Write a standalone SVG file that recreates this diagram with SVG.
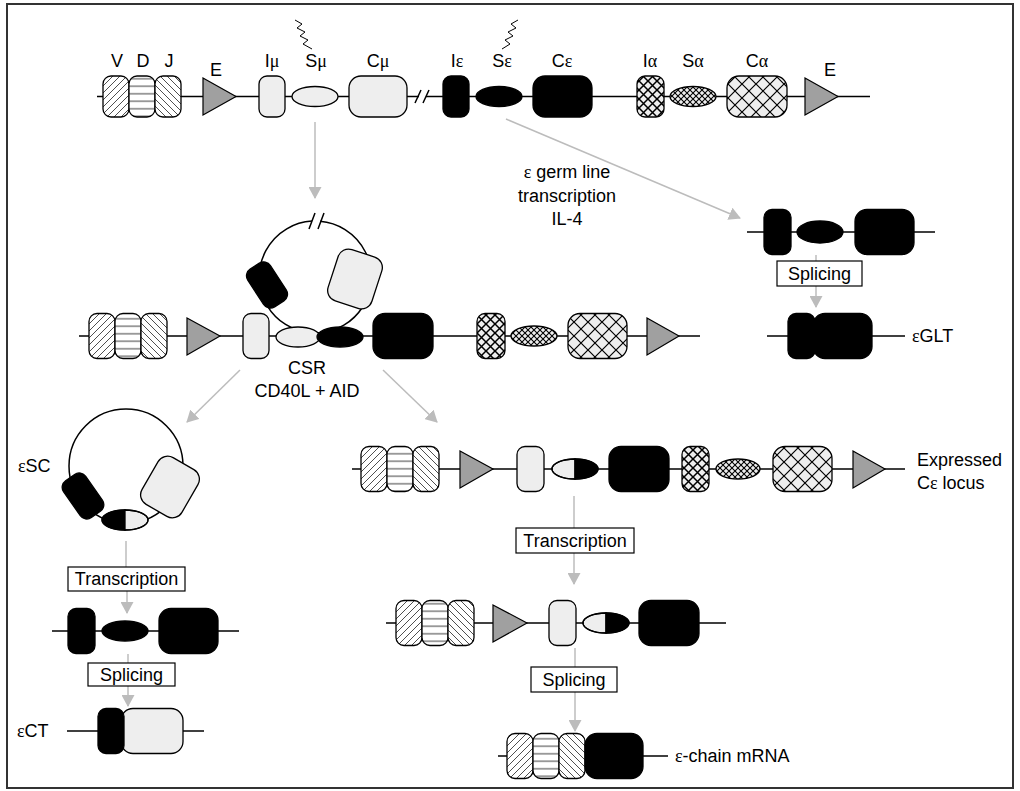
<svg xmlns="http://www.w3.org/2000/svg" width="1020" height="791" viewBox="0 0 1020 791">
<style>
.ln{stroke:#000;stroke-width:1.5;fill:none}
.b{stroke:#000;stroke-width:1.3}
.lt{fill:#eeeeee}
.bk{fill:#000}
.hv{fill:url(#hv)}
.hd{fill:url(#hd)}
.hj{fill:url(#hj)}
.xa{fill:url(#xa)}
.xs{fill:url(#xs)}
.xc{fill:url(#xc)}
.tri{fill:#a0a0a0;stroke:#000;stroke-width:1.2}
.arr{stroke:#bcbcbc;stroke-width:1.5;fill:none}
.box{fill:#fff;stroke:#000;stroke-width:1.2}
.zz{stroke:#000;stroke-width:1;fill:none}
text{font-family:"Liberation Sans",Arial,Helvetica,sans-serif;font-size:18px;fill:#000}
.m{text-anchor:middle}
.g{font-family:"Liberation Serif","Times New Roman",serif}
</style>
<defs>
<pattern id="hv" patternUnits="userSpaceOnUse" width="7" height="7"><rect width="7" height="7" fill="#fff"/><path d="M0,7 L7,0 M-1,1 L1,-1 M6,8 L8,6" stroke="#222" stroke-width="0.8"/></pattern>
<pattern id="hj" patternUnits="userSpaceOnUse" width="7" height="7"><rect width="7" height="7" fill="#fff"/><path d="M0,0 L7,7 M-1,6 L1,8 M6,-1 L8,1" stroke="#222" stroke-width="0.8"/></pattern>
<pattern id="hd" patternUnits="userSpaceOnUse" width="10" height="7.5"><rect width="10" height="7.5" fill="#fff"/><path d="M0,3.75 H10" stroke="#222" stroke-width="0.9"/></pattern>
<pattern id="xa" patternUnits="userSpaceOnUse" width="9" height="9"><rect width="9" height="9" fill="#eee"/><path d="M0,0 L9,9 M9,0 L0,9" stroke="#000" stroke-width="1.5"/></pattern>
<pattern id="xs" patternUnits="userSpaceOnUse" width="6" height="6"><rect width="6" height="6" fill="#eee"/><path d="M0,0 L6,6 M6,0 L0,6" stroke="#000" stroke-width="1.1"/></pattern>
<pattern id="xc" patternUnits="userSpaceOnUse" width="14" height="14"><rect width="14" height="14" fill="#eee"/><path d="M0,0 L14,14 M14,0 L0,14" stroke="#000" stroke-width="1.2"/></pattern>
<marker id="ah" viewBox="0 0 12 13" refX="11" refY="6.5" markerWidth="12" markerHeight="13" markerUnits="userSpaceOnUse" orient="auto"><path d="M0,0 L12,6.5 L0,13 z" fill="#bcbcbc"/></marker>
</defs>
<rect x="7" y="4" width="1006" height="784" fill="#fff" stroke="#333" stroke-width="2"/>

<g id="connectors">
<line class="arr" x1="315" y1="122" x2="315" y2="198" marker-end="url(#ah)"/>
<line class="arr" x1="506" y1="119" x2="740" y2="218" marker-end="url(#ah)"/>
<line class="arr" x1="816" y1="255" x2="816" y2="261"/>
<line class="arr" x1="816" y1="286" x2="816" y2="307" marker-end="url(#ah)"/>
<line class="arr" x1="240" y1="370" x2="187" y2="422" marker-end="url(#ah)"/>
<line class="arr" x1="383" y1="370" x2="437" y2="422" marker-end="url(#ah)"/>
<line class="arr" x1="126" y1="541" x2="126" y2="567"/>
<line class="arr" x1="127" y1="591" x2="127" y2="613" marker-end="url(#ah)"/>
<line class="arr" x1="128" y1="654" x2="128" y2="663"/>
<line class="arr" x1="128" y1="686" x2="128" y2="706" marker-end="url(#ah)"/>
<line class="arr" x1="574" y1="496" x2="574" y2="528"/>
<line class="arr" x1="574" y1="553" x2="574" y2="584" marker-end="url(#ah)"/>
<line class="arr" x1="575" y1="648" x2="575" y2="667"/>
<line class="arr" x1="575" y1="692" x2="575" y2="731" marker-end="url(#ah)"/>
</g>

<g id="germline-locus">
<path class="ln" d="M97,96.5 H419 M426,96.5 H870"/>
<path class="ln" d="M415,103 L421,90 M423,103 L429,90"/>
<path class="zz" d="M295,20 L302,24 L297,28 L305,32 L300,36 L308,40 L303,44 L312,49"/>
<path class="zz" d="M518,20 L511,24 L516,28 L508,32 L513,36 L505,40 L510,44 L502,49"/>
<rect class="b hv" x="103" y="76" width="26" height="41" rx="8"/>
<rect class="b hd" x="129" y="76" width="26" height="41" rx="8"/>
<rect class="b hj" x="155" y="76" width="26" height="41" rx="8"/>
<polygon class="tri" points="203,78 236,96.5 203,115"/>
<rect class="b lt" x="259" y="76" width="26" height="41" rx="8"/>
<ellipse class="b lt" cx="315" cy="96.5" rx="23" ry="10"/>
<rect class="b lt" x="349" y="76" width="58" height="41" rx="12"/>
<rect class="b bk" x="443" y="76" width="26" height="41" rx="8"/>
<ellipse class="b bk" cx="499" cy="96.5" rx="23" ry="10"/>
<rect class="b bk" x="533" y="76" width="59" height="41" rx="12"/>
<rect class="b xa" x="637" y="76" width="27" height="41" rx="8"/>
<ellipse class="b xs" cx="693" cy="96.5" rx="23" ry="10"/>
<rect class="b xc" x="727" y="76" width="60" height="41" rx="12"/>
<polygon class="tri" points="805,78 838,96.5 805,115"/>
<text class="m" x="117" y="67">V</text>
<text class="m" x="143" y="67">D</text>
<text class="m" x="169" y="67">J</text>
<text class="m" x="216" y="76">E</text>
<text class="m" x="272" y="67">I<tspan class="g">μ</tspan></text>
<text class="m" x="316" y="67">S<tspan class="g">μ</tspan></text>
<text class="m" x="378" y="67">C<tspan class="g">μ</tspan></text>
<text class="m" x="457" y="67">I<tspan class="g">ε</tspan></text>
<text class="m" x="502" y="67">S<tspan class="g">ε</tspan></text>
<text class="m" x="562" y="67">C<tspan class="g">ε</tspan></text>
<text class="m" x="650" y="67">I<tspan class="g">α</tspan></text>
<text class="m" x="693" y="67">S<tspan class="g">α</tspan></text>
<text class="m" x="757" y="67">C<tspan class="g">α</tspan></text>
<text class="m" x="830" y="76">E</text>
</g>

<g id="germline-transcription-label">
<text class="m" x="567" y="178"><tspan class="g">ε</tspan> germ line</text>
<text class="m" x="567" y="202">transcription</text>
<text class="m" x="567" y="225">IL-4</text>
</g>

<g id="glt-transcript">
<path class="ln" d="M747,232 H935"/>
<rect class="b bk" x="764" y="209.5" width="27" height="45" rx="8"/>
<ellipse class="b bk" cx="820" cy="232" rx="23" ry="11"/>
<rect class="b bk" x="855" y="209.5" width="59" height="45" rx="12"/>
</g>
<g id="glt-splicing">
<rect class="box" x="777" y="261" width="85" height="25"/>
<text class="m" x="819.5" y="280">Splicing</text>
</g>
<g id="eglt">
<path class="ln" d="M767,336 H905"/>
<rect class="b bk" x="788" y="313.5" width="27" height="45" rx="8"/>
<rect class="b bk" x="813" y="313.5" width="59" height="45" rx="12"/>
<text x="912" y="342"><tspan class="g">ε</tspan>GLT</text>
</g>

<g id="csr-locus">
<path class="ln" d="M320,221.2 A56,56 0 1 1 312,221.1"/>
<path class="ln" d="M309,229 L315,213 M318,229 L324,213"/>
<rect class="b bk" x="253.5" y="262.5" width="27" height="45" rx="8" transform="rotate(-33 267 285)"/>
<rect class="b lt" x="332" y="252" width="46" height="54" rx="11" transform="rotate(18 355 279)"/>
<path class="ln" d="M79,336 H700"/>
<rect class="b hv" x="89" y="313.5" width="26" height="45" rx="8"/>
<rect class="b hd" x="115" y="313.5" width="26" height="45" rx="8"/>
<rect class="b hj" x="141" y="313.5" width="26" height="45" rx="8"/>
<polygon class="tri" points="187,318 220,336 187,355"/>
<rect class="b lt" x="243" y="313.5" width="26" height="45" rx="8"/>
<ellipse class="b lt" cx="298" cy="337" rx="22" ry="10"/>
<ellipse class="b bk" cx="340" cy="337" rx="23" ry="10"/>
<rect class="b bk" x="373" y="313.5" width="60" height="45" rx="12"/>
<rect class="b xa" x="477" y="313.5" width="28" height="45" rx="8"/>
<ellipse class="b xs" cx="534" cy="336" rx="23" ry="10"/>
<rect class="b xc" x="568" y="313.5" width="59" height="45" rx="12"/>
<polygon class="tri" points="647,318 679,336 647,355"/>
<text class="m" x="307" y="374">CSR</text>
<text class="m" x="307" y="397">CD40L + AID</text>
</g>

<g id="esc">
<circle class="ln" cx="126" cy="466" r="57"/>
<rect class="b bk" x="69.5" y="473.5" width="27" height="45" rx="8" transform="rotate(-35 83 496)"/>
<rect class="b lt" x="147" y="460" width="46" height="54" rx="11" transform="rotate(30 170 487)"/>
<path class="b bk" d="M125,510 A23,10 0 0 0 125,530 Z"/>
<path class="b lt" d="M125,510 A23,10 0 0 1 125,530 Z"/>
<ellipse cx="125" cy="520" rx="23" ry="10" fill="none" stroke="#000" stroke-width="1.3"/>
<text x="18" y="472"><tspan class="g">ε</tspan>SC</text>
</g>
<g id="esc-transcription">
<rect class="box" x="68" y="567" width="117" height="24"/>
<text class="m" x="126.5" y="585">Transcription</text>
</g>
<g id="ect-transcript">
<path class="ln" d="M52,631 H239"/>
<rect class="b bk" x="68" y="608.5" width="27" height="45" rx="8"/>
<ellipse class="b bk" cx="125" cy="631" rx="23" ry="10"/>
<rect class="b bk" x="159" y="608.5" width="59" height="45" rx="12"/>
</g>
<g id="ect-splicing">
<rect class="box" x="88" y="663" width="87" height="23"/>
<text class="m" x="131.5" y="681">Splicing</text>
</g>
<g id="ect">
<path class="ln" d="M67,731 H204"/>
<rect class="b lt" x="121" y="708.5" width="62" height="45" rx="12"/>
<rect class="b bk" x="98" y="708.5" width="26" height="45" rx="8"/>
<text x="17" y="737"><tspan class="g">ε</tspan>CT</text>
</g>

<g id="expressed-locus">
<path class="ln" d="M352,469 H905"/>
<rect class="b hv" x="361" y="446.5" width="26" height="45" rx="8"/>
<rect class="b hd" x="387" y="446.5" width="26" height="45" rx="8"/>
<rect class="b hj" x="413" y="446.5" width="26" height="45" rx="8"/>
<polygon class="tri" points="460,451 493,469 460,488"/>
<rect class="b lt" x="517" y="446.5" width="27" height="45" rx="8"/>
<path class="b lt" d="M575,459 A23,10 0 0 0 575,479 Z"/>
<path class="b bk" d="M575,459 A23,10 0 0 1 575,479 Z"/>
<ellipse cx="575" cy="469" rx="23" ry="10" fill="none" stroke="#000" stroke-width="1.3"/>
<rect class="b bk" x="609" y="446.5" width="60" height="45" rx="12"/>
<rect class="b xa" x="682" y="446.5" width="27" height="45" rx="8"/>
<ellipse class="b xs" cx="738" cy="469" rx="22" ry="10"/>
<rect class="b xc" x="773" y="446.5" width="59" height="45" rx="12"/>
<polygon class="tri" points="853,451 885,469 853,488"/>
<text x="917" y="466">Expressed</text>
<text x="917" y="489">C<tspan class="g">ε</tspan> locus</text>
</g>
<g id="locus-transcription">
<rect class="box" x="516" y="528" width="118" height="25"/>
<text class="m" x="575" y="547">Transcription</text>
</g>
<g id="primary-transcript">
<path class="ln" d="M386,623 H726"/>
<rect class="b hv" x="396" y="600.5" width="26" height="45" rx="8"/>
<rect class="b hd" x="422" y="600.5" width="26" height="45" rx="8"/>
<rect class="b hj" x="448" y="600.5" width="26" height="45" rx="8"/>
<polygon class="tri" points="493,605 527,623 493,642"/>
<rect class="b lt" x="549" y="600.5" width="27" height="45" rx="8"/>
<path class="b lt" d="M606,613 A23,10 0 0 0 606,633 Z"/>
<path class="b bk" d="M606,613 A23,10 0 0 1 606,633 Z"/>
<ellipse cx="606" cy="623" rx="23" ry="10" fill="none" stroke="#000" stroke-width="1.3"/>
<rect class="b bk" x="639" y="600.5" width="60" height="45" rx="12"/>
</g>
<g id="transcript-splicing">
<rect class="box" x="531" y="667" width="86" height="25"/>
<text class="m" x="574" y="686">Splicing</text>
</g>
<g id="mrna">
<path class="ln" d="M498,756 H668"/>
<rect class="b hv" x="507" y="733.5" width="26" height="45" rx="8"/>
<rect class="b hd" x="533" y="733.5" width="26" height="45" rx="8"/>
<rect class="b hj" x="559" y="733.5" width="26" height="45" rx="8"/>
<rect class="b bk" x="585" y="733.5" width="58" height="45" rx="12"/>
<text x="675" y="762"><tspan class="g">ε</tspan>-chain mRNA</text>
</g>
</svg>
